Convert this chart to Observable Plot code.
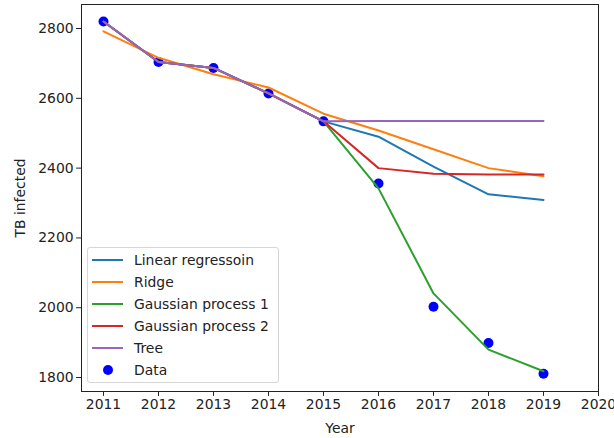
<!DOCTYPE html>
<html>
<head>
<meta charset="utf-8">
<script src="https://cdn.jsdelivr.net/npm/d3@7"></script>
<script src="https://cdn.jsdelivr.net/npm/@observablehq/plot@0.6"></script>
<style>
  body { margin: 0; background: #fff; font-family: "DejaVu Sans", sans-serif; }
  #wrap { position: relative; width: 614px; height: 438px; }
  #legend { position: absolute; left: 87px; top: 247px; width: 192px; height: 136px;
    border: 1px solid #d6d6d6; border-radius: 3px; background: rgba(255,255,255,0.8);
    box-sizing: border-box; font-size: 13.9px; color: #222; }
  .row { position: absolute; left: 0; height: 20px; display: flex; align-items: center; }
  .sw { width: 31px; margin-left: 4px; display: flex; justify-content: center; align-items: center; }
  .lbl { margin-left: 11px; white-space: nowrap; }
</style>
</head>
<body>
<div id="wrap"></div>
<script>
const years = [2011, 2012, 2013, 2014, 2015, 2016, 2017, 2018, 2019];
const dataValues = [2820, 2704, 2687, 2614, 2534, 2356, 2003, 1899, 1811];
const linearValues = [2820, 2704, 2687, 2614, 2534, 2490, 2404, 2325, 2309];
const ridgeValues = [2792, 2716, 2669, 2631, 2556, 2508, 2454, 2400, 2377];
const gp1Values = [2820, 2704, 2687, 2614, 2534, 2342, 2041, 1880, 1818];
const gp2Values = [2820, 2704, 2687, 2614, 2534, 2400, 2384, 2382, 2382];
const treeValues = [2820, 2704, 2687, 2614, 2534, 2535, 2535, 2535, 2535];
const seriesNames = ["Linear regressoin", "Ridge", "Gaussian process 1", "Gaussian process 2", "Tree"];
const seriesColors = ["#1f77b4", "#ff7f0e", "#2ca02c", "#d62728", "#9467bd"];
const xTicks = [2011, 2012, 2013, 2014, 2015, 2016, 2017, 2018, 2019, 2020];
const yTicks = [1800, 2000, 2200, 2400, 2600, 2800];

const seriesValues = [linearValues, ridgeValues, gp1Values, gp2Values, treeValues];
const points = years.map((y, i) => ({year: y, value: dataValues[i]}));
const lines = seriesValues.map((vals, k) => years.map((y, i) => ({year: y, value: vals[i], name: seriesNames[k]})));

const chart = Plot.plot({
  width: 614,
  height: 438,
  marginLeft: 81,
  marginRight: 16,
  marginTop: 4,
  marginBottom: 47,
  style: {fontFamily: "DejaVu Sans, sans-serif", fontSize: "13.9px", color: "#222", background: "#fff"},
  x: {domain: [2010.6, 2020]},
  y: {domain: [1760, 2868.8]},
  marks: [
    Plot.dot(points, {x: "year", y: "value", r: 5, fill: "#0000ff", stroke: "none"}),
    ...lines.map((ln, k) => Plot.line(ln, {x: "year", y: "value", stroke: seriesColors[k], strokeWidth: 2})),
    Plot.frame({stroke: "#222", strokeWidth: 1}),
    Plot.axisX({ticks: xTicks, tickFormat: d3.format("d"), tickSize: 4.9, tickPadding: 3, label: "Year", labelAnchor: "center", labelArrow: "none", labelOffset: 41}),
    Plot.axisY({ticks: yTicks, tickFormat: d3.format("d"), tickSize: 4.9, tickPadding: 3, label: "TB infected", labelAnchor: "center", labelArrow: "none", labelOffset: 66})
  ]
});
const wrap = document.getElementById("wrap");
wrap.appendChild(chart);

const legend = document.createElement("div");
legend.id = "legend";
const entries = seriesNames.map((n, k) => ({name: n, color: seriesColors[k], type: "line"}));
entries.push({name: "Data", color: "#0000ff", type: "dot"});
entries.forEach((e, i) => {
  const row = document.createElement("div");
  row.className = "row";
  row.style.top = (2 + i * 21.9) + "px";
  const sw = document.createElement("div");
  sw.className = "sw";
  sw.innerHTML = e.type === "line"
    ? `<svg width="31" height="6"><line x1="0" x2="31" y1="3" y2="3" stroke="${e.color}" stroke-width="2"/></svg>`
    : `<svg width="12" height="12"><circle cx="6" cy="6" r="5" fill="${e.color}"/></svg>`;
  const lbl = document.createElement("div");
  lbl.className = "lbl";
  lbl.textContent = e.name;
  row.appendChild(sw);
  row.appendChild(lbl);
  legend.appendChild(row);
});
wrap.appendChild(legend);
</script>
</body>
</html>
